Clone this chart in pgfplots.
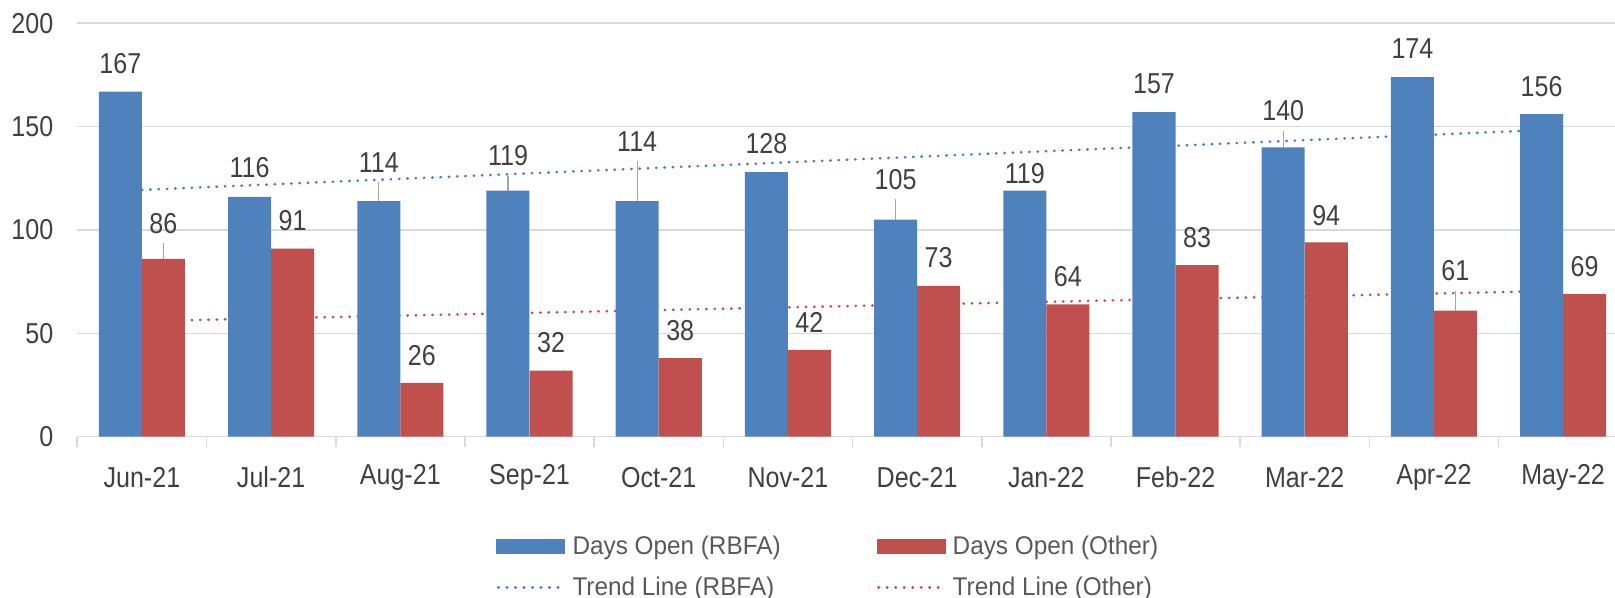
\documentclass[border=0pt]{standalone}
\usepackage{fontspec}
\setmainfont{Liberation Sans}[FakeStretch=0.87]
\newfontfamily\legfont{Liberation Sans}[FakeStretch=0.95]
\usepackage{pgfplots}
\pgfplotsset{compat=1.18}
\usepackage{pgfplotstable}
\definecolor{cblue}{HTML}{4F81BD}
\definecolor{cred}{HTML}{C0504D}
\definecolor{tblue}{HTML}{4A7CC4}
\definecolor{tred}{HTML}{C0504D}
\definecolor{gridc}{HTML}{D9D9D9}
\definecolor{txt}{HTML}{404040}
\definecolor{ltxt}{HTML}{595959}
\definecolor{lead}{HTML}{A6A6A6}
\newcommand{\lf}{\fontsize{14.4}{17}\selectfont}
\newcommand{\lgf}{\legfont\fontsize{12.8}{15}\selectfont}

\pgfplotstableread{
x y dy
0 167 27.8
1 116 29.4
2 114 38.6
3 119 34.9
4 114 59.6
5 128 28.9
6 105 40.2
7 119 17.0
8 157 28.5
9 140 36.5
10 174 28.2
11 156 27.5
}\rbfa

\pgfplotstableread{
x y dy
0 86 35.6
1 91 28.3
2 26 27.2
3 32 28.1
4 38 27.4
5 42 27.4
6 73 28.3
7 64 27.7
8 83 27.3
9 94 26.9
10 61 39.8
11 69 27.4
}\other

\pgfplotstableread{
x y e
2 114 9.0
3 119 7.2
4 114 19.2
6 105 9.8
9 140 8.0
}\rbfalead

\pgfplotstableread{
x y e
0 86 7.5
10 61 9.6
}\otherlead

\begin{document}
\begin{tikzpicture}
\begin{axis}[
  scale only axis, width=768.85pt, height=206.7pt,
  xmin=-0.5, xmax=11.4016, ymin=0, ymax=200,
  axis x line*=bottom, axis y line*=left,
  y axis line style={draw=none},
  x axis line style={draw=gridc, line width=0.8pt},
  ytick={0,50,...,200}, ymajorgrids, grid style={gridc, line width=0.8pt},
  xtick={0,...,11},
  xticklabels={Jun-21,Jul-21,Aug-21,Sep-21,Oct-21,Nov-21,Dec-21,Jan-22,Feb-22,Mar-22,Apr-22,May-22},
  minor xtick={-0.5,0.5,...,10.5},
  tick align=outside,
  major tick length=0pt, minor tick length=5pt,
  minor x tick style={gridc, line width=0.8pt},
  major tick style={draw=none},
  /pgf/number format/assume math mode=true,
  yticklabel style={font=\lf, text=txt, xshift=-8.5pt},
  xticklabel style={font=\lf, text=txt, anchor=center, yshift=-20.2pt},
  legend columns=2,
  legend style={draw=none, fill=none, inner sep=0pt, font=\lgf, text=ltxt,
    anchor=north west, at={(0.2723,-0.2285)},
    nodes={inner xsep=3.2pt, inner ysep=2pt}, row sep=5.7pt,
    /tikz/every even column/.append style={column sep=44.8pt}},
  legend cell align=left,
]
% trend lines (behind bars)
\addplot[forget plot, tblue, line width=1.3pt, line cap=round, dash pattern=on 0.25pt off 3.9pt]
  coordinates {(0,119.4) (11,148.8)};
\addplot[forget plot, tred, line width=1.3pt, line cap=round, dash pattern=on 0.25pt off 3.9pt]
  coordinates {(0,55.9) (11,70.6)};
% bars
\addplot[forget plot, ybar, bar width=0.333, bar shift=-0.1667, fill=cblue, draw=none,
  nodes near coords, visualization depends on={\thisrow{dy} \as \dy},
  nodes near coords style={anchor=center, xshift=-10.75pt, yshift=\dy*0.5pt, font=\lf, text=txt}]
  table[x=x, y=y] {\rbfa};
\addplot[forget plot, ybar, bar width=0.333, bar shift=0.1667, fill=cred, draw=none,
  nodes near coords, visualization depends on={\thisrow{dy} \as \dy},
  nodes near coords style={anchor=center, xshift=10.75pt, yshift=\dy*0.5pt, font=\lf, text=txt}]
  table[x=x, y=y] {\other};
% leader lines
\addplot[forget plot, draw=none, mark=none,
  error bars/.cd, y dir=plus, y explicit, error mark=none,
  error bar style={draw=lead, line width=0.6pt}]
  table[x expr=\thisrow{x}-0.1667, y=y, y error=e] {\rbfalead};
\addplot[forget plot, draw=none, mark=none,
  error bars/.cd, y dir=plus, y explicit, error mark=none,
  error bar style={draw=lead, line width=0.6pt}]
  table[x expr=\thisrow{x}+0.1667, y=y, y error=e] {\otherlead};
% legend
\addlegendimage{legend image code/.code={\fill[cblue] (0pt,-3.5pt) rectangle (34pt,3.5pt);}}
\addlegendentry{Days Open (RBFA)}
\addlegendimage{legend image code/.code={\fill[cred] (0pt,-3.5pt) rectangle (34pt,3.5pt);}}
\addlegendentry{Days Open (Other)}
\addlegendimage{legend image code/.code={\draw[tblue, line width=1.3pt, line cap=round, dash pattern=on 0.25pt off 4pt] (0.7pt,0pt) -- (34pt,0pt);}}
\addlegendentry{Trend Line (RBFA)}
\addlegendimage{legend image code/.code={\draw[tred, line width=1.3pt, line cap=round, dash pattern=on 0.25pt off 4pt] (0.7pt,0pt) -- (34pt,0pt);}}
\addlegendentry{Trend Line (Other)}
\end{axis}
\pgfresetboundingbox
\path[use as bounding box] ([xshift=-38.65pt,yshift=-80.65pt]current axis.south west) rectangle ([yshift=11.65pt]current axis.north east);
\end{tikzpicture}
\end{document}
